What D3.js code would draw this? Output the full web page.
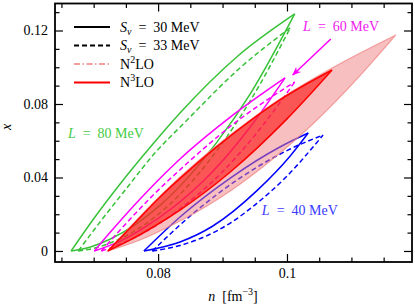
<!DOCTYPE html>
<html>
<head>
<meta charset="UTF-8">
<script src="https://d3js.org/d3.v7.min.js"></script>
<style>
	body{ margin: 0; background: #fff; }
	text{ font-family: "Liberation Serif", serif; }
</style>
</head>
<body>
<svg width="415" height="307"></svg>
<script>
	// Curves: [n (fm^-3), x], upper and lower branch of each loop
	var green30Upper = [[0.0665,0],[0.0702,0.0185],[0.0741,0.0365],[0.0788,0.0566],[0.0834,0.0751],[0.0922,0.1056],[0.1012,0.1290]];
	var green30Lower = [[0.0665,0],[0.0695,0.0022],[0.0726,0.0065],[0.0764,0.0142],[0.0803,0.0248],[0.0891,0.0591],[0.0943,0.0855],[0.1012,0.1290]];
	var green33Upper = [[0.0676,0],[0.0710,0.0158],[0.0749,0.0332],[0.0795,0.0533],[0.0842,0.0702],[0.0927,0.0996],[0.1005,0.1214]];
	var green33Lower = [[0.0676,0],[0.0702,0.0016],[0.0733,0.0054],[0.0772,0.0127],[0.0811,0.0232],[0.0896,0.0569],[0.0943,0.0817],[0.1005,0.1214]];

	var magenta30Upper = [[0.0701,0],[0.0726,0.0103],[0.0772,0.0283],[0.0834,0.0501],[0.0912,0.0729],[0.0997,0.0942]];
	var magenta30Lower = [[0.0701,0],[0.0741,0.0054],[0.0772,0.0114],[0.0826,0.0245],[0.0881,0.0419],[0.0943,0.0675],[0.0997,0.0942]];
	var magenta33Upper = [[0.0712,0],[0.0741,0.0114],[0.0788,0.0289],[0.0842,0.0468],[0.0919,0.0697],[0.1012,0.0920]];
	var magenta33Lower = [[0.0712,0],[0.0749,0.0049],[0.0780,0.0103],[0.0834,0.0229],[0.0901,0.0435],[0.0958,0.0664],[0.1012,0.0920]];

	var blue30Upper = [[0.0778,0],[0.0834,0.0185],[0.0912,0.0397],[0.0989,0.0566],[0.1033,0.0642]];
	var blue30Lower = [[0.0778,0],[0.0834,0.0049],[0.0885,0.0136],[0.0953,0.0327],[0.1005,0.0517],[0.1033,0.0642]];
	var blue33Upper = [[0.0791,0],[0.0850,0.0191],[0.0927,0.0397],[0.1005,0.0555],[0.1056,0.0631]];
	var blue33Lower = [[0.0791,0],[0.0834,0.0030],[0.0912,0.0152],[0.0950,0.0250],[0.0997,0.0397],[0.1056,0.0631]];

	var n3loUpper = [[0.0722,0],[0.0752,0.0109],[0.0803,0.0294],[0.0834,0.0395],[0.0947,0.0719],[0.0989,0.0822],[0.1070,0.0985]];
	var n3loLower = [[0.0722,0],[0.0757,0.0060],[0.0795,0.0136],[0.0834,0.0223],[0.0912,0.0430],[0.1000,0.0719],[0.1070,0.0985]];
	var n2loUpper = [[0.0722,0],[0.0752,0.0114],[0.0803,0.0299],[0.0834,0.0403],[0.0947,0.0724],[0.0989,0.0827],[0.1070,0.0996],[0.1169,0.1176]];
	var n2loLower = [[0.0722,0],[0.0772,0.0060],[0.0834,0.0163],[0.0912,0.0327],[0.0974,0.0490],[0.1040,0.0691],[0.1113,0.0953],[0.1169,0.1176]];

	// Ticks
	var xMajorTicks = [0.08, 0.10];
	var xMinorTicks = [0.065, 0.07, 0.075, 0.085, 0.09, 0.095, 0.105, 0.11, 0.115];
	var yMajorTicks = [0, 0.04, 0.08, 0.12];
	var yMinorTicks = [0.01, 0.02, 0.03, 0.05, 0.06, 0.07, 0.09, 0.10, 0.11, 0.13];

	// Annotations (data units)
	var arrow60 = [[0.1068, 0.1154], [0.1009, 0.0958]];

	var green = "#38c238", magenta = "#ff00ff", blue = "#0000ff";

	var svg = d3.select("svg");
	var plotLeft = 55, plotRight = 412, plotTop = 3.5, plotBottom = 262;

	var xScale = d3.scaleLinear().domain([0.064, 0.1194]).range([plotLeft, plotRight]);
	var yScale = d3.scaleLinear().domain([-0.006, 0.1347]).range([plotBottom, plotTop]);

	var line = d3.line()
				.x(function(d) {return xScale(d[0])})
				.y(function(d) {return yScale(d[1])})
				.curve(d3.curveMonotoneX);

	var plot = svg.append("g");

	// Draw loops (upper and lower branch)
	function drawLoop(upper, lower, color, dashed){
		[upper, lower].forEach(function(branch){
			plot.append("path")
				.attr("d", line(branch))
				.attr("fill", "none")
				.attr("stroke", color)
				.attr("stroke-width", 1.5)
				.attr("stroke-dasharray", dashed ? "5,3" : null);
		});
	}

	drawLoop(green30Upper, green30Lower, green, false);
	drawLoop(green33Upper, green33Lower, green, true);
	drawLoop(magenta30Upper, magenta30Lower, magenta, false);
	drawLoop(magenta33Upper, magenta33Lower, magenta, true);
	drawLoop(blue30Upper, blue30Lower, blue, false);
	drawLoop(blue33Upper, blue33Lower, blue, true);

	// Bands
	function band(upper, lower){
		return line(upper) + line(lower.slice().reverse()).replace(/^M/, "L") + "Z";
	}

	plot.append("path")
		.attr("d", band(n2loUpper, n2loLower))
		.attr("fill", "rgb(240,128,128)")
		.attr("fill-opacity", 0.5)
		.attr("stroke", "rgb(240,128,128)")
		.attr("stroke-opacity", 0.7)
		.attr("stroke-width", 1.2);

	plot.append("path")
		.attr("d", band(n3loUpper, n3loLower))
		.attr("fill", "rgb(255,0,0)")
		.attr("fill-opacity", 0.55)
		.attr("stroke", "rgb(255,0,0)")
		.attr("stroke-width", 1.5);

	// Arrow for L = 60 MeV
	var defs = svg.append("defs");
	defs.append("marker")
		.attr("id", "head")
		.attr("viewBox", "0 0 10 10")
		.attr("refX", 9).attr("refY", 5)
		.attr("markerWidth", 6).attr("markerHeight", 6)
		.attr("orient", "auto")
		.append("path")
		.attr("d", "M0,1 L10,5 L0,9 L3,5 Z")
		.attr("fill", magenta);

	plot.append("line")
		.attr("x1", xScale(arrow60[0][0])).attr("y1", yScale(arrow60[0][1]))
		.attr("x2", xScale(arrow60[1][0])).attr("y2", yScale(arrow60[1][1]))
		.attr("stroke", magenta)
		.attr("stroke-width", 1.5)
		.attr("marker-end", "url(#head)");

	// Labels
	function lLabel(txt, n, x, color){
		var t = svg.append("text")
					.attr("x", xScale(n))
					.attr("y", yScale(x))
					.attr("fill", color)
					.attr("font-size", 14);
		t.append("tspan").attr("font-style", "italic").text("L");
		t.append("tspan").text("\u2002=\u2002" + txt + " MeV");
	}
	lLabel("60", 0.1025, 0.1198, "#f020f0");
	lLabel("80", 0.0660, 0.0615, "#44cc44");
	lLabel("40", 0.0961, 0.0196, "#3a3aff");

	// Axes
	function axisG(axis, tx, ty){
		var g = svg.append("g").attr("transform", "translate(" + tx + "," + ty + ")").call(axis);
		g.select(".domain").remove();
		g.selectAll("line").attr("stroke", "#000").attr("stroke-width", 1.2);
		g.selectAll("text").attr("font-family", "Liberation Serif").attr("font-size", 14).attr("fill", "#000");
		return g;
	}
	axisG(d3.axisBottom(xScale).tickValues(xMajorTicks).tickSize(-8).tickPadding(6).tickFormat(d3.format(".2~f")), 0, plotBottom);
	axisG(d3.axisBottom(xScale).tickValues(xMinorTicks).tickSize(-4.5).tickFormat(""), 0, plotBottom);
	axisG(d3.axisTop(xScale).tickValues(xMajorTicks).tickSize(-8).tickFormat(""), 0, plotTop);
	axisG(d3.axisTop(xScale).tickValues(xMinorTicks).tickSize(-4.5).tickFormat(""), 0, plotTop);
	axisG(d3.axisLeft(yScale).tickValues(yMajorTicks).tickSize(-8).tickPadding(7).tickFormat(function(d) {return d === 0 ? "0" : d3.format(".2f")(d)}), plotLeft, 0);
	axisG(d3.axisLeft(yScale).tickValues(yMinorTicks).tickSize(-4.5).tickFormat(""), plotLeft, 0);
	axisG(d3.axisRight(yScale).tickValues(yMajorTicks).tickSize(-8).tickFormat(""), plotRight, 0);
	axisG(d3.axisRight(yScale).tickValues(yMinorTicks).tickSize(-4.5).tickFormat(""), plotRight, 0);

	svg.append("rect")
		.attr("x", plotLeft).attr("y", plotTop)
		.attr("width", plotRight - plotLeft).attr("height", plotBottom - plotTop)
		.attr("fill", "none")
		.attr("stroke", "#000")
		.attr("stroke-width", 1.8);

	// Axis titles
	var xt = svg.append("text").attr("x", 233).attr("y", 301).attr("text-anchor", "middle").attr("font-size", 14);
	xt.append("tspan").attr("font-style", "italic").text("n");
	xt.append("tspan").text("\u2002[fm");
	xt.append("tspan").attr("font-size", 10).attr("dy", -6).text("\u22123");
	xt.append("tspan").attr("dy", 6).text("]");

	svg.append("text")
		.attr("transform", "translate(11,127) rotate(-90)")
		.attr("text-anchor", "middle")
		.attr("font-size", 14)
		.attr("font-style", "italic")
		.text("x");

	// Legend
	var legendItems = [
		{color: "#000", dash: null, width: 1.8},
		{color: "#000", dash: "5,3", width: 1.8},
		{color: "rgb(240,128,128)", dash: "6,2.5,1.5,2.5", width: 1.5},
		{color: "#ff0000", dash: null, width: 2}
	];
	var legend = svg.append("g");
	legendItems.forEach(function(d, i){
		var y = 27 + i * 18.5;
		legend.append("line")
			.attr("x1", 74).attr("x2", 110)
			.attr("y1", y).attr("y2", y)
			.attr("stroke", d.color)
			.attr("stroke-width", d.width)
			.attr("stroke-dasharray", d.dash);
		var t = legend.append("text").attr("x", 120).attr("y", y + 4.5).attr("font-size", 14);
		if(i < 2){
			t.append("tspan").attr("font-style", "italic").text("S");
			t.append("tspan").attr("font-style", "italic").attr("font-size", 10).attr("dy", 3).text("v");
			t.append("tspan").attr("dy", -3).text("\u2002=\u2002" + (i == 0 ? "30" : "33") + " MeV");
		}
		else{
			t.append("tspan").text("N");
			t.append("tspan").attr("font-size", 10).attr("dy", -6).text(i == 2 ? "2" : "3");
			t.append("tspan").attr("dy", 6).text("LO");
		}
	});
</script>
</body>
</html>
